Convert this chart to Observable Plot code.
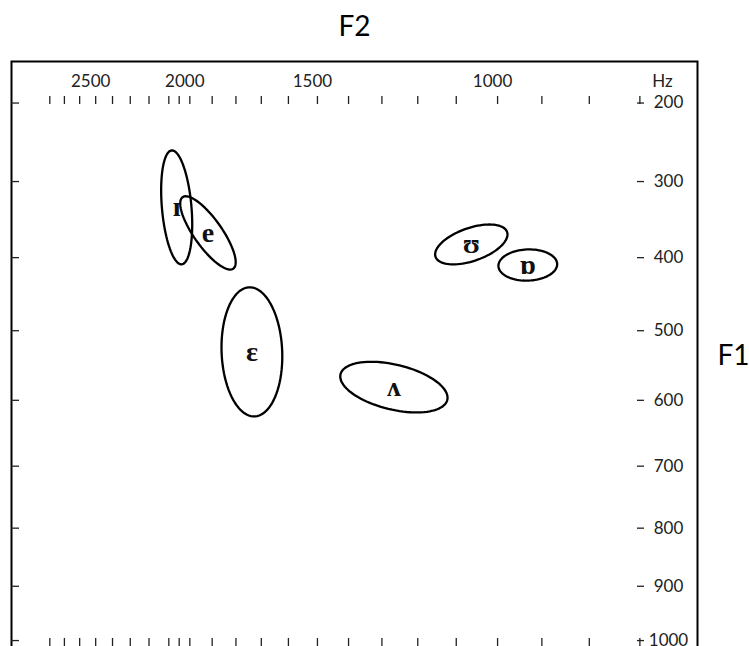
<!DOCTYPE html>
<html>
<head>
<meta charset="utf-8">
<script src="https://cdn.jsdelivr.net/npm/d3@7"></script>
<script src="https://cdn.jsdelivr.net/npm/@observablehq/plot@0.6"></script>
<style>
  html, body { margin: 0; padding: 0; background: #fff; }
  #chart { width: 749px; height: 646px; overflow: hidden; }
</style>
</head>
<body>
<div id="chart"></div>
<script>
// Vowel formant ranges (Hz)
const vowels = ["ɪ", "e", "ɛ", "ʌ", "ʊ", "ɒ"];
const f2Low  = [1989, 1801, 1622, 1122, 977, 867];
const f2High = [2138, 2045, 1860, 1426, 1154, 998];
const f1Low  = [260, 319, 440, 544, 356, 389];
const f1High = [409, 416, 624, 618, 409, 431];
// orientation of each ellipse (F2/F1 correlation on the chart)
const tilt   = [0.3, 0.8, 0.07, 0.42, -0.5, -0.05];

// Axis ticks (Hz)
const f2Ticks = [2800, 2700, 2600, 2500, 2400, 2300, 2200, 2100, 2050, 2000, 1900, 1800, 1700, 1600, 1500, 1400, 1300, 1200, 1100, 1000, 900, 800, 700];
const f2Labels = [2500, 2000, 1500, 1000];
const f1Ticks = [200, 300, 400, 500, 600, 700, 800, 900, 1000];
const f2Extent = [3085, 593];
const f1Extent = [148, 1021];

// Bark (Zwicker) transform used by both axes
const bark = f => 13 * Math.atan(0.00076 * f) + 3.5 * Math.atan((f / 7500) ** 2);

const centers = vowels.map((v, i) => ({
  v,
  x: (bark(f2Low[i]) + bark(f2High[i])) / 2,
  y: (bark(f1Low[i]) + bark(f1High[i])) / 2,
  hx: (bark(f2High[i]) - bark(f2Low[i])) / 2,
  hy: (bark(f1High[i]) - bark(f1Low[i])) / 2,
  r: tilt[i]
}));

const N = 90;
const outline = centers.flatMap(c => {
  const s = Math.sqrt(1 - c.r * c.r);
  return d3.range(N).map(k => {
    const t = (k / N) * 2 * Math.PI;
    return {v: c.v, x: c.x - c.hx * Math.cos(t), y: c.y + c.hy * (c.r * Math.cos(t) + s * Math.sin(t))};
  });
});

const ink = "#222";
const chart = Plot.plot({
  width: 749,
  height: 660,
  marginLeft: 11,
  marginRight: 52,
  marginTop: 61,
  marginBottom: 9,
  style: {fontFamily: "Lato, 'Open Sans', sans-serif", fontSize: "17px", color: ink, background: "#fff"},
  x: {type: "linear", domain: f2Extent.map(bark), axis: null},
  y: {type: "linear", domain: f1Extent.map(bark), reverse: true, axis: null},
  marks: [
    Plot.frame({stroke: "#000", strokeWidth: 2}),
    // top and bottom F2 ticks
    Plot.ruleX(f2Ticks, {x: d => bark(d), insetTop: 35, insetBottom: 547, stroke: ink, strokeWidth: 1.3}),
    Plot.ruleX(f2Ticks, {x: d => bark(d), insetTop: 577, insetBottom: 2, stroke: ink, strokeWidth: 1.3}),
    Plot.text(f2Labels, {x: d => bark(d), text: d => `${d}`, frameAnchor: "top", lineAnchor: "middle", dy: 20, dx: -5, textAnchor: "middle", fill: ink}),
    Plot.text(["Hz"], {text: d => d, frameAnchor: "top-right", lineAnchor: "middle", dx: -35, dy: 20, textAnchor: "middle", fill: ink}),
    // left and right F1 ticks
    Plot.ruleY(f1Ticks, {y: d => bark(d), insetLeft: 0, insetRight: 678, stroke: ink, strokeWidth: 1.3}),
    Plot.ruleY(f1Ticks, {y: d => bark(d), insetLeft: 626, insetRight: 53, stroke: ink, strokeWidth: 1.3}),
    Plot.text(f1Ticks, {y: d => bark(d), text: d => `${d}`, frameAnchor: "right", lineAnchor: "middle", dx: -29, textAnchor: "middle", fill: ink}),
    // axis titles
    Plot.text(["F2"], {text: d => d, frameAnchor: "top", lineAnchor: "middle", dy: -34, textAnchor: "middle", fontSize: 28, fill: "#000"}),
    Plot.text(["F1"], {text: d => d, frameAnchor: "right", lineAnchor: "middle", dx: 36, textAnchor: "middle", fontSize: 28, fill: "#000"}),
    // vowel ellipses
    Plot.line(outline, {x: "x", y: "y", z: "v", stroke: "#000", strokeWidth: 2.3, curve: "linear-closed"}),
    Plot.text(centers, {x: "x", y: "y", text: "v", fontSize: 28, fontWeight: "bold", fontFamily: "'Liberation Serif', 'DejaVu Serif', serif", fill: "#111"})
  ]
});
document.getElementById("chart").appendChild(chart);
</script>
</body>
</html>
